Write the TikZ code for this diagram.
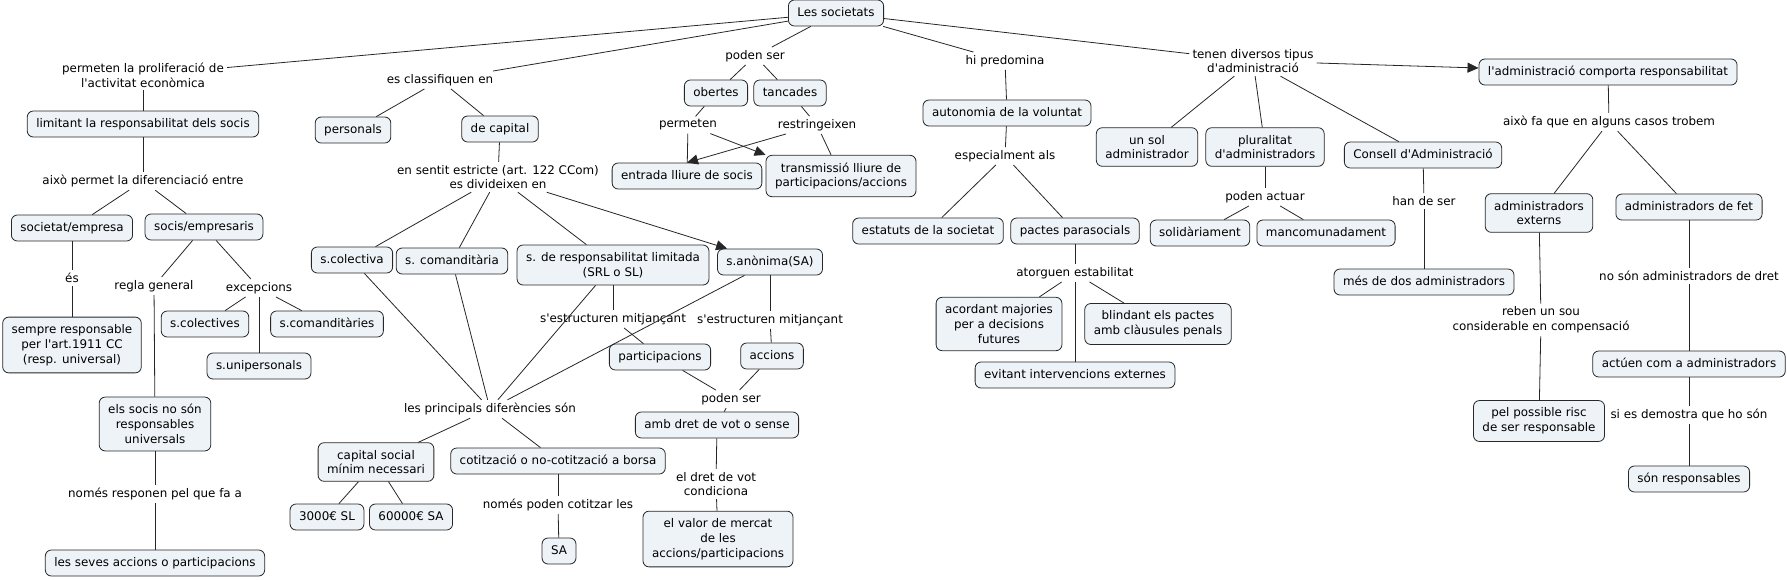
\documentclass[tikz,border=0pt]{standalone}
\usepackage{fontspec}
\setmainfont{DejaVu Sans}[Ligatures=TeXOff]
\usetikzlibrary{arrows.meta}
\definecolor{boxfill}{RGB}{237,243,246}
\definecolor{boxline}{RGB}{40,40,40}
\begin{document}
\begin{tikzpicture}[x=1pt,y=-1pt,
  every node/.style={font=\fontsize{11.9}{14.8}\selectfont, align=center},
  cbox/.style={draw=boxline, fill=boxfill, rounded corners=6pt, inner xsep=9pt, inner ysep=7pt, text height=9pt, text depth=3pt, line width=0.8pt},
  mbox/.style={draw=boxline, fill=boxfill, rounded corners=6pt, inner xsep=9pt, inner ysep=7.3pt, line width=0.8pt},
  lab/.style={inner sep=3pt},
  ln/.style={line width=0.8pt, draw=black!85},
  arr/.style={ln, -{Triangle[length=11pt,width=10pt]}}
]
\useasboundingbox (0,0) rectangle (1787,579);
% top
\node[cbox] (ls) at (836,13) {Les societats};
% left branch
\node[lab] (l1) at (143,75) {permeten la proliferació de\\l'activitat econòmica};
\node[cbox] (limit) at (143,124) {limitant la responsabilitat dels socis};
\node[lab] (l2) at (143,181) {això permet la diferenciació entre};
\node[cbox] (socemp) at (72,228) {societat/empresa};
\node[cbox] (socis) at (204,227) {socis/empresaris};
\node[lab] (les) at (72,278) {és};
\node[mbox] (sempre) at (72,345) {sempre responsable\\per l'art.1911 CC\\(resp. universal)};
\node[lab] (lregla) at (154,286) {regla general};
\node[lab] (lexc) at (259,288) {excepcions};
\node[cbox] (scols) at (205,324) {s.colectives};
\node[cbox] (scoms) at (327,324) {s.comanditàries};
\node[cbox] (suni) at (259,366) {s.unipersonals};
\node[mbox] (noresp) at (155,424) {els socis no són\\responsables\\universals};
\node[lab] (lnomes) at (155,494) {només responen pel que fa a};
\node[cbox] (seves) at (155,563) {les seves accions o participacions};
% classification
\node[lab] (lclass) at (440,80) {es classifiquen en};
\node[cbox] (pers) at (353,130) {personals};
\node[cbox] (decap) at (500,129) {de capital};
\node[lab] (lsentit) at (498,177) {en sentit estricte (art. 122 CCom)\\es divideixen en};
\node[cbox] (scol) at (352,260) {s.colectiva};
\node[cbox] (scom) at (452,261) {s. comanditària};
\node[mbox] (srl) at (613,265) {s. de responsabilitat limitada\\(SRL o SL)};
\node[cbox] (sa) at (770,262) {s.anònima(SA)};
\node[lab] (lestr1) at (613,319) {s'estructuren mitjançant};
\node[lab] (lestr2) at (770,320) {s'estructuren mitjançant};
\node[cbox] (part) at (660,357) {participacions};
\node[cbox] (acc) at (772,356) {accions};
\node[lab] (lprinc) at (490,409) {les principals diferències són};
\node[lab] (lpoden2) at (731,399) {poden ser};
\node[cbox] (ambdret) at (717,425) {amb dret de vot o sense};
\node[lab] (ldret) at (716,484) {el dret de vot\\condiciona};
\node[mbox] (valor) at (718,539) {el valor de mercat\\de les\\accions/participacions};
\node[mbox] (capsoc) at (376,462) {capital social\\mínim necessari};
\node[cbox] (cotitz) at (558,461) {cotització o no-cotització a borsa};
\node[cbox] (c3000) at (327,517) {3000€ SL};
\node[cbox] (c60000) at (411,517) {60000€ SA};
\node[lab] (lcotitz) at (558,505) {només poden cotitzar les};
\node[cbox] (sabox) at (559,551) {SA};
% poden ser
\node[lab] (lpoden1) at (755,56) {poden ser};
\node[cbox] (obert) at (716,93) {obertes};
\node[cbox] (tanc) at (790,93) {tancades};
\node[lab] (lperm) at (688,125) {permeten};
\node[lab] (lrestr) at (817,125) {restringeixen};
\node[cbox] (entrada) at (687,176) {entrada lliure de socis};
\node[mbox] (trans) at (841,176) {transmissió lliure de\\participacions/accions};
% hi predomina
\node[lab] (lhi) at (1005,61) {hi predomina};
\node[cbox] (auto) at (1007,113) {autonomia de la voluntat};
\node[lab] (lespec) at (1005,156) {especialment als};
\node[cbox] (estat) at (928,231) {estatuts de la societat};
\node[cbox] (pactes) at (1075,231) {pactes parasocials};
\node[lab] (lator) at (1075,273) {atorguen estabilitat};
\node[mbox] (acord) at (999,324) {acordant majories\\per a decisions\\futures};
\node[mbox] (blind) at (1158,324) {blindant els pactes\\amb clàusules penals};
\node[cbox] (evit) at (1075,375) {evitant intervencions externes};
% administracio
\node[lab] (ltenen) at (1253,61) {tenen diversos tipus\\d'administració};
\node[cbox] (adm) at (1608,72) {l'administració comporta responsabilitat};
\node[mbox] (unsol) at (1147,147) {un sol\\administrador};
\node[mbox] (plural) at (1265,147) {pluralitat\\d'administradors};
\node[cbox] (consell) at (1423,155) {Consell d'Administració};
\node[lab] (lpact) at (1265,197) {poden actuar};
\node[cbox] (solid) at (1200,233) {solidàriament};
\node[cbox] (manc) at (1326,233) {mancomunadament};
\node[lab] (lhan) at (1424,201) {han de ser};
\node[cbox] (mesdos) at (1424,282) {més de dos administradors};
\node[lab] (laixo) at (1609,122) {això fa que en alguns casos trobem};
\node[mbox] (ext) at (1539,213) {administradors\\externs};
\node[cbox] (fet) at (1689,207) {administradors de fet};
\node[lab] (lnoson) at (1689,276) {no són administradors de dret};
\node[lab] (lreben) at (1541,320) {reben un sou\\considerable en compensació};
\node[mbox] (risc) at (1539,421) {pel possible risc\\de ser responsable};
\node[cbox] (actuen) at (1689,364) {actúen com a administradors};
\node[lab] (lsi) at (1689,415) {si es demostra que ho són};
\node[cbox] (son) at (1689,479) {són responsables};
% connectors
\draw[ln] (ls) -- (l1);
\draw[ln] (l1) -- (limit);
\draw[ln] (limit) -- (l2);
\draw[ln] (l2) -- (socemp);
\draw[ln] (l2) -- (socis);
\draw[ln] (socemp) -- (les);
\draw[ln] (les) -- (sempre);
\draw[ln] (socis) -- (lregla);
\draw[ln] (lregla) -- (noresp);
\draw[ln] (noresp) -- (lnomes);
\draw[ln] (lnomes) -- (seves);
\draw[ln] (socis) -- (lexc);
\draw[ln] (lexc) -- (scols);
\draw[ln] (lexc) -- (suni);
\draw[ln] (lexc) -- (scoms);
\draw[ln] (ls) -- (lclass);
\draw[ln] (lclass) -- (pers);
\draw[ln] (lclass) -- (decap);
\draw[ln] (decap) -- (lsentit);
\draw[ln] (lsentit) -- (scol);
\draw[ln] (lsentit) -- (scom);
\draw[ln] (lsentit) -- (srl);
\draw[arr] (lsentit) -- (sa);
\draw[ln] (srl) -- (lestr1);
\draw[ln] (lestr1) -- (part);
\draw[ln] (sa) -- (lestr2);
\draw[ln] (lestr2) -- (acc);
\draw[ln] (scol) -- (lprinc);
\draw[ln] (scom) -- (lprinc);
\draw[ln] (srl) -- (lprinc);
\draw[ln] (sa) -- (lprinc);
\draw[ln] (lprinc) -- (capsoc);
\draw[ln] (lprinc) -- (cotitz);
\draw[ln] (capsoc) -- (c3000);
\draw[ln] (capsoc) -- (c60000);
\draw[ln] (cotitz) -- (lcotitz);
\draw[ln] (lcotitz) -- (sabox);
\draw[ln] (part) -- (lpoden2);
\draw[ln] (acc) -- (lpoden2);
\draw[ln] (lpoden2) -- (ambdret);
\draw[ln] (ambdret) -- (ldret);
\draw[ln] (ldret) -- (valor);
\draw[ln] (ls) -- (lpoden1);
\draw[ln] (lpoden1) -- (obert);
\draw[ln] (lpoden1) -- (tanc);
\draw[ln] (obert) -- (lperm);
\draw[ln] (tanc) -- (lrestr);
\draw[ln] (lperm) -- (entrada);
\draw[arr] (lperm) -- (trans.north west);
\draw[arr] (lrestr) -- (entrada.north);
\draw[ln] (lrestr) -- (trans);
\draw[ln] (ls) -- (lhi);
\draw[ln] (lhi) -- (auto);
\draw[ln] (auto) -- (lespec);
\draw[ln] (lespec) -- (estat);
\draw[ln] (lespec) -- (pactes);
\draw[ln] (pactes) -- (lator);
\draw[ln] (lator) -- (acord);
\draw[ln] (lator) -- (evit);
\draw[ln] (lator) -- (blind);
\draw[ln] (ls) -- (ltenen);
\draw[arr] (ltenen) -- (adm);
\draw[ln] (ltenen) -- (unsol);
\draw[ln] (ltenen) -- (plural);
\draw[ln] (ltenen) -- (consell);
\draw[ln] (plural) -- (lpact);
\draw[ln] (lpact) -- (solid);
\draw[ln] (lpact) -- (manc);
\draw[ln] (consell) -- (lhan);
\draw[ln] (lhan) -- (mesdos);
\draw[ln] (adm) -- (laixo);
\draw[ln] (laixo) -- (ext);
\draw[ln] (laixo) -- (fet);
\draw[ln] (ext) -- (lreben);
\draw[ln] (lreben) -- (risc);
\draw[ln] (fet) -- (lnoson);
\draw[ln] (lnoson) -- (actuen);
\draw[ln] (actuen) -- (lsi);
\draw[ln] (lsi) -- (son);
\end{tikzpicture}
\end{document}
